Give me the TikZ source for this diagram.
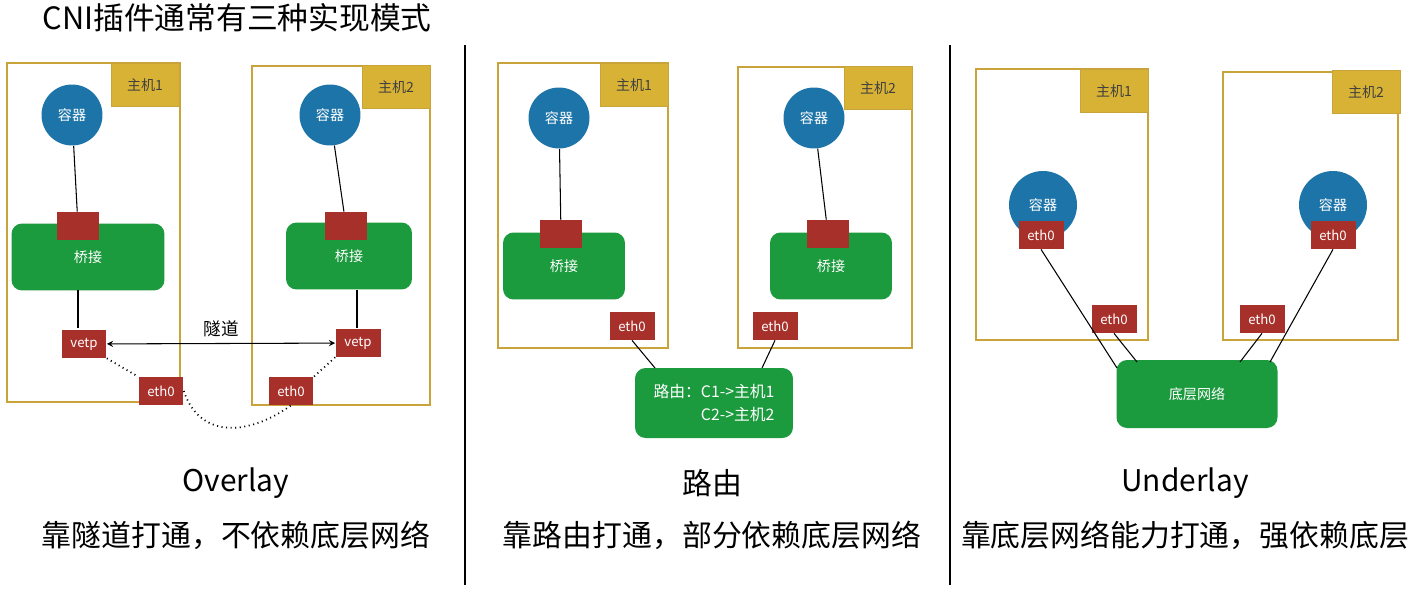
\documentclass[tikz,border=0pt]{standalone}
\usepackage{fontspec}
\setmainfont{Noto Sans CJK SC}
\definecolor{hostgold}{HTML}{C9A43A}
\definecolor{labelgold}{HTML}{D8B234}
\definecolor{netgreen}{HTML}{1C9A3E}
\definecolor{ctblue}{HTML}{1D74A8}
\definecolor{portred}{HTML}{A8302B}
\tikzset{
  host/.style={draw=hostgold, line width=1pt},
  hostlabel/.style={fill=labelgold, draw=hostgold, minimum width=1.36cm, minimum height=0.86cm, font=\fontsize{8}{9}\selectfont, text=black!75},
  ctr/.style={circle, fill=ctblue, minimum size=1.22cm, text=white, font=\fontsize{8}{9}\selectfont},
  bridge/.style={rounded corners=6pt, fill=netgreen, minimum width=3.0cm, minimum height=1.34cm, text=white, font=\fontsize{8}{9}\selectfont},
  port/.style={fill=portred, minimum width=0.84cm, minimum height=0.56cm, inner sep=0pt},
  eth/.style={fill=portred, minimum width=0.9cm, minimum height=0.56cm, inner sep=0pt, text=white, font=\fontsize{7.5}{8}\selectfont},
  link/.style={draw=black, line width=0.6pt},
  caption/.style={font=\fontsize{17}{19}\selectfont}
}
\begin{document}
\begin{tikzpicture}[x=0.02cm, y=-0.02cm]
  \useasboundingbox (0,0) rectangle (1413,592);
  \node[font=\fontsize{17.5}{19}\selectfont] (title) at (237,18) {CNI插件通常有三种实现模式};
  \draw[line width=0.8pt] (465,45) -- (465,585);
  \draw[line width=0.8pt] (950,45) -- (950,585);

  % Overlay
  \draw[host] (7,63) rectangle (180,402);
  \draw[host] (252,66) rectangle (430,405);
  \node[hostlabel] (ol1) at (145,85) {主机1};
  \node[hostlabel] (ol2) at (396,87) {主机2};
  \node[ctr] (oc1) at (72,115) {容器};
  \node[ctr] (oc2) at (330,115) {容器};
  \node[bridge, minimum width=3.06cm] (ob1) at (88,257) {桥接};
  \node[bridge, minimum width=2.52cm] (ob2) at (349,256) {桥接};
  \node[port] (op1) at (78,226) {};
  \node[port] (op2) at (346,226) {};
  \node[eth] (ov1) at (84,344) {vetp};
  \node[eth] (ov2) at (358,343) {vetp};
  \node[eth] (oe1) at (161,391) {eth0};
  \node[eth] (oe2) at (291,391) {eth0};
  \draw[link] (oc1) -- (op1);
  \draw[link] (oc2) -- (op2);
  \draw[link] (78,290) -- (78,328);
  \draw[link] (357,290) -- (357,328);
  \draw[link, <->, >=stealth] (ov1) -- node[above, font=\fontsize{10}{12}\selectfont] {隧道} (ov2);
  \draw[link, dotted, line width=1pt] (ov1.south east) -- (oe1.north west);
  \draw[link, dotted, line width=1pt] (ov2.south west) -- (oe2.north east);
  \draw[link, dotted, line width=1pt] (oe1.east) .. controls (200,440) and (250,435) .. (oe2.south);
  \node[caption] (ocap) at (236,483) {Overlay};
  \node[caption] (odesc) at (236,535) {靠隧道打通，不依赖底层网络};

  % Routing
  \draw[host] (498,63) rectangle (668,348);
  \draw[host] (738,67) rectangle (912,348);
  \node[hostlabel] (rl1) at (634,85) {主机1};
  \node[hostlabel] (rl2) at (878,88) {主机2};
  \node[ctr] (rc1) at (559,118) {容器};
  \node[ctr] (rc2) at (814,118) {容器};
  \node[bridge, minimum width=2.44cm] (rb1) at (564,266) {桥接};
  \node[bridge, minimum width=2.44cm] (rb2) at (831,266) {桥接};
  \node[port] (rp1) at (561,234) {};
  \node[port] (rp2) at (828,234) {};
  \node[eth] (re1) at (632,326) {eth0};
  \node[eth] (re2) at (775,326) {eth0};
  \node[bridge, minimum width=3.16cm, minimum height=1.4cm, align=right, font=\fontsize{9}{13}\selectfont] (route) at (714,403) {路由：C1->主机1\\C2->主机2};
  \draw[link] (rc1) -- (rp1);
  \draw[link] (rc2) -- (rp2);
  \draw[link] (re1.south) -- (655,368);
  \draw[link] (re2.south) -- (762,368);
  \node[caption] (rcap) at (712,483) {路由};
  \node[caption] (rdesc) at (712,535) {靠路由打通，部分依赖底层网络};

  % Underlay
  \draw[host] (976,69) rectangle (1148,340);
  \draw[host] (1223,72) rectangle (1398,340);
  \node[hostlabel] (ul1) at (1114,91) {主机1};
  \node[hostlabel] (ul2) at (1366,92) {主机2};
  \node[ctr, minimum size=1.36cm] (uc1) at (1043,205) {容器};
  \node[ctr, minimum size=1.36cm] (uc2) at (1333,205) {容器};
  \node[eth] (uce1) at (1041,235) {eth0};
  \node[eth] (uce2) at (1333,235) {eth0};
  \node[eth] (ue1) at (1114,319) {eth0};
  \node[eth] (ue2) at (1262,319) {eth0};
  \node[bridge, minimum width=3.22cm, minimum height=1.36cm] (unet) at (1197,394) {底层网络};
  \draw[link] (uce1.south) -- (1117,368);
  \draw[link] (ue1.south) -- (1137,362);
  \draw[link] (ue2.south) -- (1240,362);
  \draw[link] (uce2.south) -- (1270,362);
  \node[caption] (ucap) at (1185,483) {Underlay};
  \node[caption] (udesc) at (1185,535) {靠底层网络能力打通，强依赖底层};
\end{tikzpicture}
\end{document}
